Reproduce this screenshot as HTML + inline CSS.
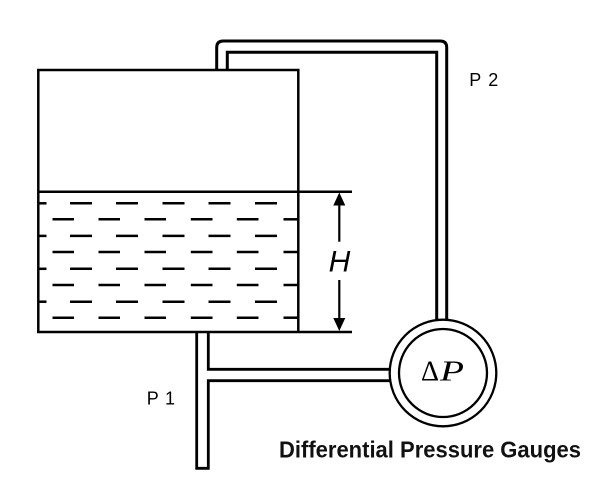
<!DOCTYPE html>
<html>
<head>
<meta charset="utf-8">
<style>
html,body{margin:0;padding:0;background:#fff;}
svg{display:block;}
</style>
</head>
<body>
<svg width="600" height="500" viewBox="0 0 600 500" xmlns="http://www.w3.org/2000/svg">
  <rect width="600" height="500" fill="#fff"/>
  <!-- top pipe -->
  <g fill="none" stroke="#000" stroke-width="3" stroke-linejoin="round">
    <path d="M216.7,70 V47.5 Q216.7,41 223.2,41 H440.2 Q446.7,41 446.7,47.5 V325"/>
    <path d="M227.3,70 V52.3 H436.7 V325" stroke-linejoin="miter"/>
  </g>
  <!-- tank -->
  <g fill="none" stroke="#000" stroke-width="2.5">
    <path d="M38.3,332 V70 H298.3 V332"/>
    <line x1="37" y1="332" x2="352" y2="332"/>
    <line x1="38" y1="191.7" x2="352" y2="191.7"/>
  </g>
  <!-- water dashes -->
  <g stroke="#000" stroke-width="2.5">
    <g id="rowA">
      <line x1="39.5" y1="203.3" x2="46.5" y2="203.3"/>
      <line x1="70" y1="203.3" x2="92" y2="203.3"/>
      <line x1="116" y1="203.3" x2="138" y2="203.3"/>
      <line x1="162.5" y1="203.3" x2="184.5" y2="203.3"/>
      <line x1="208.5" y1="203.3" x2="230.5" y2="203.3"/>
      <line x1="255" y1="203.3" x2="277" y2="203.3"/>
    </g>
    <use href="#rowA" transform="translate(0,32.6)"/>
    <use href="#rowA" transform="translate(0,65.5)"/>
    <use href="#rowA" transform="translate(0,98.4)"/>
    <g id="rowB">
      <line x1="52.5" y1="219.3" x2="74" y2="219.3"/>
      <line x1="98.5" y1="219.3" x2="120" y2="219.3"/>
      <line x1="144.5" y1="219.3" x2="166" y2="219.3"/>
      <line x1="190.8" y1="219.3" x2="212.5" y2="219.3"/>
      <line x1="236.8" y1="219.3" x2="258.5" y2="219.3"/>
      <line x1="283.5" y1="219.3" x2="297.5" y2="219.3"/>
    </g>
    <use href="#rowB" transform="translate(0,32.7)"/>
    <use href="#rowB" transform="translate(0,65.7)"/>
    <use href="#rowB" transform="translate(0,98.4)"/>
  </g>
  <!-- H arrow -->
  <g stroke="#000" stroke-width="2.2">
    <line x1="339.3" y1="200" x2="339.3" y2="241.7"/>
    <line x1="339.3" y1="280" x2="339.3" y2="324"/>
  </g>
  <polygon points="339.3,192.5 333.3,205.5 345.3,205.5" fill="#000"/>
  <polygon points="339.3,331 333.3,318 345.3,318" fill="#000"/>
  <text x="339.5" y="271.7" font-family="'Liberation Sans', sans-serif" font-size="30" font-style="italic" text-anchor="middle" fill="#000">H</text>
  <!-- bottom pipe -->
  <g fill="none" stroke="#000" stroke-width="2.8">
    <path d="M196.7,332 V468.3 H208.3 V380.7 H392"/>
    <path d="M208.3,332 V369.3 H392"/>
  </g>
  <!-- gauge -->
  <circle cx="443" cy="373" r="53.3" fill="#fff" stroke="#000" stroke-width="2.3"/>
  <circle cx="443" cy="373" r="44" fill="none" stroke="#000" stroke-width="2.3"/>
  <text x="421" y="380.7" font-family="'Liberation Serif', serif" font-size="28" fill="#000">Δ</text>
  <text x="440" y="380.7" font-family="'Liberation Serif', serif" font-size="28" font-style="italic" fill="#000" textLength="24" lengthAdjust="spacingAndGlyphs">P</text>
  <!-- labels -->
  <text x="469.3" y="86" font-family="'Liberation Sans', sans-serif" font-size="18" fill="#000" textLength="29" lengthAdjust="spacing">P 2</text>
  <text x="146.7" y="404.3" font-family="'Liberation Sans', sans-serif" font-size="18" fill="#000" textLength="28.3" lengthAdjust="spacing">P 1</text>
  <text x="279" y="457.3" font-family="'Liberation Sans', sans-serif" font-size="23" font-weight="bold" fill="#111" textLength="302" lengthAdjust="spacingAndGlyphs">Differential Pressure Gauges</text>
</svg>
</body>
</html>
